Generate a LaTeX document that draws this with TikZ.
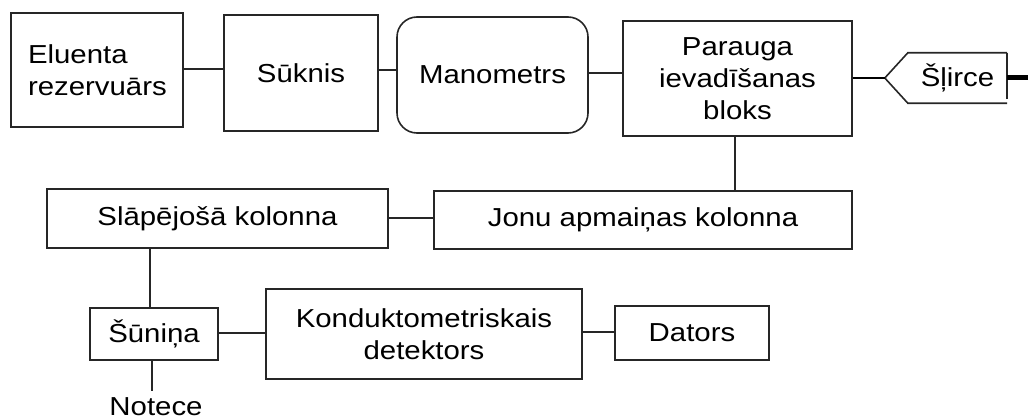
\documentclass[tikz,border=0pt]{standalone}
\usepackage{fontspec}
\setmainfont{Liberation Sans}[FakeStretch=1.13]
\begin{document}
\begin{tikzpicture}[x=1pt,y=-1pt,
  every node/.style={font=\fontsize{26}{32}\selectfont},
  box/.style={draw=black!85,line width=1.6pt,rectangle,inner sep=0pt,align=center,fill=white},
  wire/.style={draw=black!85,line width=1.6pt},
  thickwire/.style={draw=black,line width=2.6pt}]
\useasboundingbox (0,0) rectangle (1028,420);
% top row
\node[box,minimum width=172,minimum height=114,text width=138,inner xsep=17,align=left] (elu) at (97,70) {Eluenta\\rezervuārs};
\node[box,minimum width=154,minimum height=116] (suk) at (301,73) {Sūknis};
\node[box,rounded corners=20,minimum width=191,minimum height=116] (man) at (492.5,75) {Manometrs};
\node[box,minimum width=229,minimum height=115] (par) at (737.5,78.5) {Parauga\\ievadīšanas\\bloks};
\node[minimum width=99,minimum height=50,inner sep=0pt] (sli) at (957.5,78) {Šļirce};
\coordinate (slitip) at ([xshift=-23]sli.west);
\coordinate (out) at (1028,78);
\draw[wire] (sli.south east) -- (sli.south west) -- (slitip) -- (sli.north west) -- (sli.north east);
\draw[wire] ([yshift=4]sli.south east) -- (sli.north east);
% middle row
\node[box,minimum width=418,minimum height=58] (jon) at (643,220) {Jonu apmaiņas kolonna};
\node[box,minimum width=341,minimum height=59] (sla) at (217.5,218.5) {Slāpējošā kolonna};
% bottom row
\node[box,minimum width=128,minimum height=52] (sun) at (154,334) {Šūniņa};
\node[box,minimum width=316,minimum height=90] (kon) at (424,334) {Konduktometriskais\\detektors};
\node[box,minimum width=154,minimum height=54] (dat) at (692,333) {Dators};
\node[inner sep=0pt,anchor=base] (not) at (156,415) {Notece};
\coordinate (notend) at (152,391);
% connectors
\draw[wire] (elu.east |- 0,69) -- (suk.west |- 0,69);
\draw[wire] (suk.east |- 0,70) -- (man.west |- 0,70);
\draw[wire] (man.east |- 0,73) -- (par.west |- 0,73);
\draw[thickwire] (par.east |- 0,78) -- (slitip);
\draw[draw=black,line width=5pt] (sli.east) -- (out);
\draw[wire] (par.south -| 735,0) -- (jon.north -| 735,0);
\draw[wire] (sla.east |- 0,218) -- (jon.west |- 0,218);
\draw[wire] (sla.south -| 150,0) -- (sun.north -| 150,0);
\draw[wire] (sun.east |- 0,333) -- (kon.west |- 0,333);
\draw[wire] (kon.east |- 0,332) -- (dat.west |- 0,332);
\draw[wire] (sun.south -| 152,0) -- (notend);
\end{tikzpicture}
\end{document}
